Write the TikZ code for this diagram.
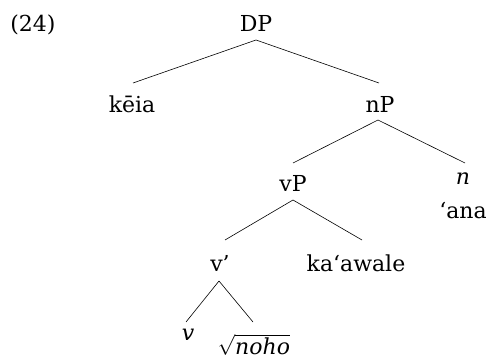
\documentclass[tikz,border=0pt]{standalone}
\usepackage{fontspec}
\setmainfont{DejaVu Serif}
\usetikzlibrary{calc}
\begin{document}
\begin{tikzpicture}[x=1pt,y=-1pt,
  lbl/.style={anchor=base,inner sep=0pt,font=\fontsize{22}{26}\selectfont},
  edge/.style={line width=0.6pt}]
\useasboundingbox (0,0) rectangle (490,358);
\node[lbl] (ex) at (33,32) {(24)};
\node[lbl] (DP) at (256,32) {DP};
\node[lbl] (keia) at (132,113) {kēia};
\node[lbl] (nP) at (380,113) {nP};
\node[lbl] (vP) at (293,192) {vP};
\node[lbl] (n) at (463,185) {\itshape n};
\node[lbl] (ana) at (463,219) {‘ana};
\node[lbl] (vbar) at (220,272) {v’};
\node[lbl] (kaawale) at (356,272) {ka‘awale};
\node[lbl] (v) at (188,340) {\itshape v};
\node[lbl] (noho) at (254,354) {$\sqrt{\textit{noho}}$};
\draw[edge] ([yshift=-8pt]DP.base) -- ([shift={(1pt,30pt)}]keia.base);
\draw[edge] ([yshift=-8pt]DP.base) -- ([shift={(-1pt,30pt)}]nP.base);
\draw[edge] ([shift={(-2pt,-7pt)}]nP.base) -- ([yshift=29pt]vP.base);
\draw[edge] ([shift={(-2pt,-7pt)}]nP.base) -- ([shift={(2pt,22pt)}]n.base);
\draw[edge] ([yshift=-8pt]vP.base) -- ([shift={(5pt,32pt)}]vbar.base);
\draw[edge] ([yshift=-8pt]vP.base) -- ([shift={(6pt,32pt)}]kaawale.base);
\draw[edge] ([shift={(-1pt,-9pt)}]vbar.base) -- ([shift={(-2pt,18pt)}]v.base);
\draw[edge] ([shift={(-1pt,-9pt)}]vbar.base) -- ([shift={(-1pt,32pt)}]noho.base);
\end{tikzpicture}
\end{document}
